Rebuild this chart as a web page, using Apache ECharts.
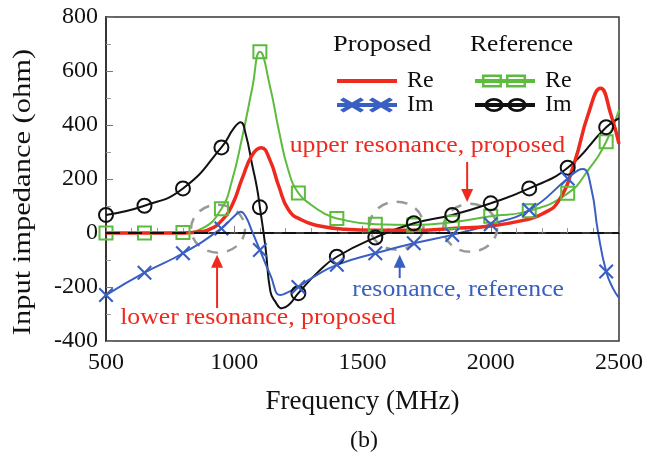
<!DOCTYPE html>
<html>
<head>
<meta charset="utf-8">
<script src="https://cdn.jsdelivr.net/npm/echarts@6/dist/echarts.min.js"></script>
<style>
html, body { margin: 0; padding: 0; background: #fff; }
#main { width: 646px; height: 457px; }
</style>
</head>
<body>
<div id="main"></div>
<script>
// markers are drawn every 150 MHz
const markerFreq = [500, 650, 800, 950, 1100, 1250, 1400, 1550, 1700, 1850, 2000, 2150, 2300, 2450];

// Proposed, real part (ohm)
const propReFreq = [500, 650, 800, 850, 900, 950, 992, 1031, 1070, 1105, 1140, 1173, 1212, 1263, 1328, 1430, 1550, 1700, 1850, 2000, 2150, 2200, 2263, 2327, 2379, 2428, 2469, 2500];
const propReVal  = [0, 0, 0, 3, 12, 45, 104, 202, 289, 316, 268, 175, 85, 48, 27, 14, 10, 10, 17, 26, 52, 70, 116, 264, 437, 536, 437, 330];

// Proposed, imaginary part
const propImFreq = [500, 650, 800, 950, 1000, 1025, 1045, 1070, 1100, 1141, 1180, 1212, 1250, 1300, 1400, 1550, 1700, 1850, 2000, 2150, 2300, 2340, 2360, 2392, 2418, 2450, 2476, 2500];
const propImVal  = [-230, -147, -75, 17, 62, 79, 60, 5, -63, -156, -230, -218, -200, -168, -118, -75, -38, -7, 32, 85, 202, 232, 237, 165, 5, -143, -204, -240];

// Reference, real part
const refReFreq = [500, 650, 800, 875, 950, 990, 1030, 1070, 1100, 1140, 1175, 1210, 1250, 1300, 1350, 1400, 1550, 1700, 1850, 2000, 2150, 2300, 2380, 2450, 2500];
const refReVal  = [0, 0, 2, 17, 90, 190, 350, 536, 671, 540, 375, 235, 148, 104, 73, 54, 32, 30, 40, 62, 82, 147, 233, 338, 455];

// Reference, imaginary part
const refImFreq = [500, 650, 800, 950, 1000, 1025, 1045, 1070, 1089, 1100, 1122, 1141, 1160, 1186, 1212, 1250, 1328, 1400, 1550, 1700, 1850, 2000, 2150, 2300, 2450, 2500];
const refImVal  = [67, 101, 165, 317, 390, 410, 365, 252, 165, 95, -55, -217, -254, -279, -267, -223, -143, -88, -17, 36, 67, 110, 165, 242, 392, 425];

const serif = 'Liberation Serif';
const cRed = '#ee2a1e', cBlue = '#3a5fc2', cGreen = '#5dbb3e', cBlack = '#111111';
const crossPath = 'path://M0,1L1,0L5,4L9,0L10,1L6,5L10,9L9,10L5,6L1,10L0,9L4,5Z';

// only every 150 MHz point gets a hollow marker
function build(freqs, vals, sym, color) {
  return freqs.map(function (f, i) {
    if (markerFreq.indexOf(f) < 0) return { value: [f, vals[i]], symbol: 'none' };
    return {
      value: [f, vals[i]], symbol: sym,
      itemStyle: { color: 'rgba(0,0,0,0)', borderColor: color, borderWidth: 2 }
    };
  });
}

// legend icons: a thick line with two markers, like the printed key
const IW = 60, IH = 17;
function corners() {
  return 'M0,0L0.3,0L0,0.3Z M' + IW + ',' + IH + 'L' + (IW - 0.3) + ',' + IH + 'L' + IW + ',' + (IH - 0.3) + 'Z ';
}
function rectCW(x, y, w, h) {
  return 'M' + x + ',' + y + 'L' + (x + w) + ',' + y + 'L' + (x + w) + ',' + (y + h) + 'L' + x + ',' + (y + h) + 'Z ';
}
function rectCCW(x, y, w, h) {
  return 'M' + x + ',' + y + 'L' + x + ',' + (y + h) + 'L' + (x + w) + ',' + (y + h) + 'L' + (x + w) + ',' + y + 'Z ';
}
function ell(cx, cy, rx, ry, sweep) {
  return 'M' + (cx - rx) + ',' + cy + 'A' + rx + ',' + ry + ' 0 1,' + sweep + ' ' + (cx + rx) + ',' + cy +
    'A' + rx + ',' + ry + ' 0 1,' + sweep + ' ' + (cx - rx) + ',' + cy + 'Z ';
}
function xmark(cx, cy, hx, hy, a, b) {
  const p = [[cx - hx, cy - hy + b], [cx - hx + a, cy - hy], [cx, cy - b], [cx + hx - a, cy - hy], [cx + hx, cy - hy + b], [cx + a, cy],
    [cx + hx, cy + hy - b], [cx + hx - a, cy + hy], [cx, cy + b], [cx - hx + a, cy + hy], [cx - hx, cy + hy - b], [cx - a, cy]];
  return 'M' + p.map(function (q) { return q[0] + ',' + q[1]; }).join('L') + 'Z ';
}
const midLine = rectCW(0, 6.5, IW, 4);
const iconRe = 'path://' + corners() + midLine;
const iconIm = 'path://' + corners() + midLine + xmark(15, 8.5, 12, 7.5, 3.5, 2.5) + xmark(44, 8.5, 12, 7.5, 3.5, 2.5);
const iconRefRe = 'path://' + corners() + midLine + rectCW(7, 2, 20, 13) + rectCCW(9.5, 4.5, 15, 8) +
  rectCW(31, 2, 20, 13) + rectCCW(33.5, 4.5, 15, 8);
const iconRefIm = 'path://' + corners() + midLine + ell(19, 8.5, 9.5, 7, 1) + ell(19, 8.5, 6.5, 4.2, 0) +
  ell(42, 8.5, 9.5, 7, 1) + ell(42, 8.5, 6.5, 4.2, 0);

const chart = echarts.init(document.getElementById('main'));

const legendCommon = {
  orient: 'vertical',
  top: 64,
  itemWidth: IW,
  itemHeight: IH,
  itemGap: 0,
  selectedMode: false,
  itemStyle: { borderWidth: 0 },
  textStyle: { fontFamily: serif, fontSize: 24, color: cBlack, padding: [0, 0, 0, 5] },
  formatter: function (name) { return name.split(' ')[1]; }
};

const option = {
  backgroundColor: '#fff',
  animation: false,
  grid: {
    left: 106, right: 23, top: 17, bottom: 116,
    show: true, borderColor: '#3a3433', borderWidth: 1.5
  },
  legend: [
    Object.assign({ left: 332, data: [
      { name: 'Proposed Re', icon: iconRe },
      { name: 'Proposed Im', icon: iconIm }
    ] }, legendCommon),
    Object.assign({ left: 470, data: [
      { name: 'Reference Re', icon: iconRefRe },
      { name: 'Reference Im', icon: iconRefIm }
    ] }, legendCommon)
  ],
  xAxis: {
    type: 'value',
    min: 500, max: 2500, interval: 500,
    name: 'Frequency (MHz)',
    nameLocation: 'middle',
    nameGap: 47,
    nameTextStyle: { fontFamily: serif, fontSize: 27, color: cBlack },
    axisLine: { lineStyle: { color: '#3a3433', width: 2 } },
    axisTick: { inside: true, length: 7, lineStyle: { color: '#777' } },
    minorTick: { show: true, splitNumber: 5, length: 5, lineStyle: { color: '#999' } },
    axisLabel: { fontFamily: serif, fontSize: 24, color: cBlack, margin: 10,
      formatter: function (v) { return String(v); } },
    splitLine: { show: false }
  },
  yAxis: {
    type: 'value',
    min: -400, max: 800, interval: 200,
    axisLine: { show: true, lineStyle: { color: '#3a3433', width: 2 } },
    axisTick: { show: true, inside: true, length: 7, lineStyle: { color: '#777' } },
    minorTick: { show: true, splitNumber: 2, length: 5, lineStyle: { color: '#999' } },
    axisLabel: { fontFamily: serif, fontSize: 24, color: cBlack, margin: 8 },
    splitLine: { show: false }
  },
  series: [
    {
      name: 'Reference Re', type: 'line', smooth: true, showAllSymbol: true,
      symbol: 'emptyRect', symbolSize: 13,
      lineStyle: { color: cGreen, width: 2 },
      itemStyle: { color: cGreen },
      data: build(refReFreq, refReVal, 'rect', cGreen)
    },
    {
      name: 'Reference Im', type: 'line', smooth: true, showAllSymbol: true,
      symbol: 'emptyCircle', symbolSize: 14,
      lineStyle: { color: cBlack, width: 2 },
      itemStyle: { color: cBlack },
      data: build(refImFreq, refImVal, 'circle', cBlack)
    },
    {
      name: 'Proposed Im', type: 'line', smooth: true, showAllSymbol: true,
      symbol: crossPath, symbolSize: 15,
      lineStyle: { color: cBlue, width: 2 },
      itemStyle: { color: cBlue },
      data: propImFreq.map(function (f, i) {
        return { value: [f, propImVal[i]], symbol: markerFreq.indexOf(f) >= 0 ? crossPath : 'none' };
      })
    },
    {
      name: 'Proposed Re', type: 'line', smooth: true, showSymbol: false,
      lineStyle: { color: cRed, width: 3.5 },
      itemStyle: { color: cRed },
      data: propReFreq.map(function (f, i) { return [f, propReVal[i]]; }),
      markLine: {
        silent: true, symbol: 'none', label: { show: false },
        lineStyle: { color: '#111', type: [14, 8], width: 2 },
        data: [{ yAxis: 0 }]
      }
    }
  ]
};
chart.setOption(option);

// annotations placed in data space
function px(f, v) { return chart.convertToPixel({ gridIndex: 0 }, [f, v]); }

const ellipses = [[937, 16], [1633, 27], [1920, 19]];
const notes = [
  { text: 'lower resonance, proposed', at: [1092, -315], color: cRed, from: [933, -278], to: [933, -81] },
  { text: 'upper resonance, proposed', at: [1753, 322], color: cRed, from: [1908, 263], to: [1908, 115] },
  { text: 'resonance, reference', at: [1873, -211], color: cBlue, from: [1645, -167], to: [1645, -81] }
];

const font = '23px "Liberation Serif"';
const graphic = [];
ellipses.forEach(function (e) {
  const c = px(e[0], e[1]);
  graphic.push({
    type: 'ellipse', z: 1,
    shape: { cx: c[0], cy: c[1], rx: 27, ry: 24 },
    style: { fill: 'none', stroke: '#999', lineWidth: 2.5, lineDash: [11, 9] }
  });
});
notes.forEach(function (n) {
  const p = px(n.at[0], n.at[1]);
  graphic.push({
    type: 'text', z: 10, x: p[0], y: p[1], scaleX: 1.12,
    style: { text: n.text, fill: n.color, font: font, align: 'center', verticalAlign: 'middle' }
  });
  const a = px(n.from[0], n.from[1]);
  const b = px(n.to[0], n.to[1]);
  const dir = b[1] > a[1] ? 1 : -1;
  graphic.push({
    type: 'line', z: 10,
    shape: { x1: a[0], y1: a[1], x2: b[0], y2: b[1] - dir * 10 },
    style: { stroke: n.color, lineWidth: 2 }
  });
  graphic.push({
    type: 'polygon', z: 10,
    shape: { points: [[b[0], b[1]], [b[0] - 6, b[1] - dir * 13], [b[0] + 6, b[1] - dir * 13]] },
    style: { fill: n.color }
  });
});
graphic.push(
  // y axis title, stretched along its length like the printed one
  { type: 'text', z: 10, x: 23, y: 192, rotation: Math.PI / 2, scaleX: 1.22,
    style: { text: 'Input impedance (ohm)', fill: cBlack, font: '25px "Liberation Serif"', align: 'center', verticalAlign: 'middle' } },
  { type: 'text', z: 10, x: 333, y: 45, scaleX: 1.1, style: { text: 'Proposed', fill: cBlack, font: '24px "Liberation Serif"', verticalAlign: 'middle' } },
  { type: 'text', z: 10, x: 470, y: 45, scaleX: 1.06, style: { text: 'Reference', fill: cBlack, font: '24px "Liberation Serif"', verticalAlign: 'middle' } },
  { type: 'text', z: 10, x: 364, y: 441, style: { text: '(b)', fill: cBlack, font: '24px "Liberation Serif"', align: 'center', verticalAlign: 'middle' } }
);
chart.setOption({ graphic: graphic });
</script>
</body>
</html>
